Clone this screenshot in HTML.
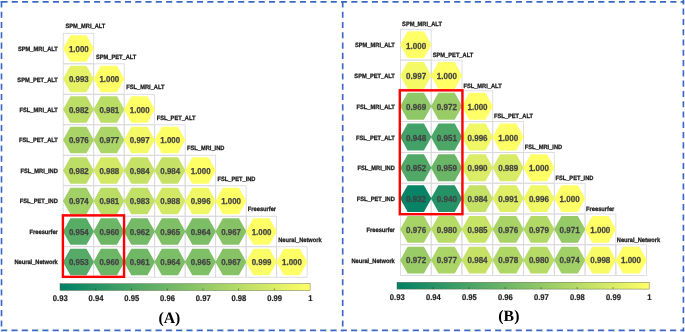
<!DOCTYPE html>
<html><head><meta charset="utf-8"><title>Correlation</title>
<style>
html,body{margin:0;padding:0;background:#fff;}
body{width:685px;height:332px;overflow:hidden;}
svg{display:block;}
text{font-family:"Liberation Sans",Arial,sans-serif;font-weight:bold;fill:#1a1a1a;text-rendering:geometricPrecision;}
.v{fill:#424242;stroke:#424242;stroke-width:0.25px;}
.l{fill:#1c1c1c;stroke:#1c1c1c;stroke-width:0.28px;}
.t{fill:#222;stroke:#222;stroke-width:0.2px;}
.p{font-family:"Liberation Serif","Times New Roman",serif;font-size:15.8px;fill:#000;}
</style></head><body>
<svg width="685" height="332" viewBox="0 0 685 332">
<defs><linearGradient id="sg" x1="0" x2="1" y1="0" y2="0"><stop offset="0" stop-color="#008066"/><stop offset="1" stop-color="#ffff66"/></linearGradient></defs>
<rect width="685" height="332" fill="#fff"/>
<g fill="none" stroke="#3c68c1" stroke-width="1.65" stroke-dasharray="6.1 4.19">
<path d="M1.46 1.8H684.3"/>
<path d="M1.2 330.4H684.3"/>
<path d="M1.5 1.4V331.2"/>
<path d="M342.7 1.4V331.2"/>
<path d="M683.4 -1.7V331.2"/>
<path d="M0.7 1.8H2"/>
</g>
<rect x="63.20" y="33.30" width="30.49" height="30.49" fill="none" stroke="#d9d9db" stroke-width="0.85"/>
<rect x="63.20" y="63.79" width="30.49" height="30.49" fill="none" stroke="#d9d9db" stroke-width="0.85"/>
<rect x="93.69" y="63.79" width="30.49" height="30.49" fill="none" stroke="#d9d9db" stroke-width="0.85"/>
<rect x="63.20" y="94.28" width="30.49" height="30.49" fill="none" stroke="#d9d9db" stroke-width="0.85"/>
<rect x="93.69" y="94.28" width="30.49" height="30.49" fill="none" stroke="#d9d9db" stroke-width="0.85"/>
<rect x="124.18" y="94.28" width="30.49" height="30.49" fill="none" stroke="#d9d9db" stroke-width="0.85"/>
<rect x="63.20" y="124.77" width="30.49" height="30.49" fill="none" stroke="#d9d9db" stroke-width="0.85"/>
<rect x="93.69" y="124.77" width="30.49" height="30.49" fill="none" stroke="#d9d9db" stroke-width="0.85"/>
<rect x="124.18" y="124.77" width="30.49" height="30.49" fill="none" stroke="#d9d9db" stroke-width="0.85"/>
<rect x="154.67" y="124.77" width="30.49" height="30.49" fill="none" stroke="#d9d9db" stroke-width="0.85"/>
<rect x="63.20" y="155.26" width="30.49" height="30.49" fill="none" stroke="#d9d9db" stroke-width="0.85"/>
<rect x="93.69" y="155.26" width="30.49" height="30.49" fill="none" stroke="#d9d9db" stroke-width="0.85"/>
<rect x="124.18" y="155.26" width="30.49" height="30.49" fill="none" stroke="#d9d9db" stroke-width="0.85"/>
<rect x="154.67" y="155.26" width="30.49" height="30.49" fill="none" stroke="#d9d9db" stroke-width="0.85"/>
<rect x="185.16" y="155.26" width="30.49" height="30.49" fill="none" stroke="#d9d9db" stroke-width="0.85"/>
<rect x="63.20" y="185.75" width="30.49" height="30.49" fill="none" stroke="#d9d9db" stroke-width="0.85"/>
<rect x="93.69" y="185.75" width="30.49" height="30.49" fill="none" stroke="#d9d9db" stroke-width="0.85"/>
<rect x="124.18" y="185.75" width="30.49" height="30.49" fill="none" stroke="#d9d9db" stroke-width="0.85"/>
<rect x="154.67" y="185.75" width="30.49" height="30.49" fill="none" stroke="#d9d9db" stroke-width="0.85"/>
<rect x="185.16" y="185.75" width="30.49" height="30.49" fill="none" stroke="#d9d9db" stroke-width="0.85"/>
<rect x="215.65" y="185.75" width="30.49" height="30.49" fill="none" stroke="#d9d9db" stroke-width="0.85"/>
<rect x="63.20" y="216.24" width="30.49" height="30.49" fill="none" stroke="#d9d9db" stroke-width="0.85"/>
<rect x="93.69" y="216.24" width="30.49" height="30.49" fill="none" stroke="#d9d9db" stroke-width="0.85"/>
<rect x="124.18" y="216.24" width="30.49" height="30.49" fill="none" stroke="#d9d9db" stroke-width="0.85"/>
<rect x="154.67" y="216.24" width="30.49" height="30.49" fill="none" stroke="#d9d9db" stroke-width="0.85"/>
<rect x="185.16" y="216.24" width="30.49" height="30.49" fill="none" stroke="#d9d9db" stroke-width="0.85"/>
<rect x="215.65" y="216.24" width="30.49" height="30.49" fill="none" stroke="#d9d9db" stroke-width="0.85"/>
<rect x="246.14" y="216.24" width="30.49" height="30.49" fill="none" stroke="#d9d9db" stroke-width="0.85"/>
<rect x="63.20" y="246.73" width="30.49" height="30.49" fill="none" stroke="#d9d9db" stroke-width="0.85"/>
<rect x="93.69" y="246.73" width="30.49" height="30.49" fill="none" stroke="#d9d9db" stroke-width="0.85"/>
<rect x="124.18" y="246.73" width="30.49" height="30.49" fill="none" stroke="#d9d9db" stroke-width="0.85"/>
<rect x="154.67" y="246.73" width="30.49" height="30.49" fill="none" stroke="#d9d9db" stroke-width="0.85"/>
<rect x="185.16" y="246.73" width="30.49" height="30.49" fill="none" stroke="#d9d9db" stroke-width="0.85"/>
<rect x="215.65" y="246.73" width="30.49" height="30.49" fill="none" stroke="#d9d9db" stroke-width="0.85"/>
<rect x="246.14" y="246.73" width="30.49" height="30.49" fill="none" stroke="#d9d9db" stroke-width="0.85"/>
<rect x="276.63" y="246.73" width="30.49" height="30.49" fill="none" stroke="#d9d9db" stroke-width="0.85"/>
<polygon points="62.95,48.54 70.40,35.22 86.49,35.22 93.94,48.54 86.49,61.87 70.40,61.87" fill="#ffff66"/>
<text transform="translate(78.85,52.04) scale(0.92,1)" class="v" font-size="8.6" text-anchor="middle">1.000</text>
<polygon points="62.95,79.03 70.40,65.71 86.49,65.71 93.94,79.03 86.49,92.36 70.40,92.36" fill="#e5f266"/>
<text transform="translate(78.85,82.47) scale(0.92,1)" class="v" font-size="8.6" text-anchor="middle">0.993</text>
<polygon points="93.44,79.03 100.89,65.71 116.98,65.71 124.43,79.03 116.98,92.36 100.89,92.36" fill="#ffff66"/>
<text transform="translate(109.30,82.47) scale(0.92,1)" class="v" font-size="8.6" text-anchor="middle">1.000</text>
<polygon points="62.95,109.52 70.40,96.20 86.49,96.20 93.94,109.52 86.49,122.85 70.40,122.85" fill="#bdde66"/>
<text transform="translate(78.85,112.89) scale(0.92,1)" class="v" font-size="8.6" text-anchor="middle">0.982</text>
<polygon points="93.44,109.52 100.89,96.20 116.98,96.20 124.43,109.52 116.98,122.85 100.89,122.85" fill="#badd66"/>
<text transform="translate(109.30,112.89) scale(0.92,1)" class="v" font-size="8.6" text-anchor="middle">0.981</text>
<polygon points="123.93,109.52 131.38,96.20 147.47,96.20 154.92,109.52 147.47,122.85 131.38,122.85" fill="#ffff66"/>
<text transform="translate(139.75,112.89) scale(0.92,1)" class="v" font-size="8.6" text-anchor="middle">1.000</text>
<polygon points="62.95,140.01 70.40,126.69 86.49,126.69 93.94,140.01 86.49,153.34 70.40,153.34" fill="#a8d366"/>
<text transform="translate(78.85,143.32) scale(0.92,1)" class="v" font-size="8.6" text-anchor="middle">0.976</text>
<polygon points="93.44,140.01 100.89,126.69 116.98,126.69 124.43,140.01 116.98,153.34 100.89,153.34" fill="#abd566"/>
<text transform="translate(109.30,143.32) scale(0.92,1)" class="v" font-size="8.6" text-anchor="middle">0.977</text>
<polygon points="123.93,140.01 131.38,126.69 147.47,126.69 154.92,140.01 147.47,153.34 131.38,153.34" fill="#f4fa66"/>
<text transform="translate(139.75,143.32) scale(0.92,1)" class="v" font-size="8.6" text-anchor="middle">0.997</text>
<polygon points="154.42,140.01 161.87,126.69 177.96,126.69 185.41,140.01 177.96,153.34 161.87,153.34" fill="#ffff66"/>
<text transform="translate(170.19,143.32) scale(0.92,1)" class="v" font-size="8.6" text-anchor="middle">1.000</text>
<polygon points="62.95,170.50 70.40,157.18 86.49,157.18 93.94,170.50 86.49,183.83 70.40,183.83" fill="#bdde66"/>
<text transform="translate(78.85,173.75) scale(0.92,1)" class="v" font-size="8.6" text-anchor="middle">0.982</text>
<polygon points="93.44,170.50 100.89,157.18 116.98,157.18 124.43,170.50 116.98,183.83 100.89,183.83" fill="#d3e966"/>
<text transform="translate(109.30,173.75) scale(0.92,1)" class="v" font-size="8.6" text-anchor="middle">0.988</text>
<polygon points="123.93,170.50 131.38,157.18 147.47,157.18 154.92,170.50 147.47,183.83 131.38,183.83" fill="#c5e266"/>
<text transform="translate(139.75,173.75) scale(0.92,1)" class="v" font-size="8.6" text-anchor="middle">0.984</text>
<polygon points="154.42,170.50 161.87,157.18 177.96,157.18 185.41,170.50 177.96,183.83 161.87,183.83" fill="#c5e266"/>
<text transform="translate(170.19,173.75) scale(0.92,1)" class="v" font-size="8.6" text-anchor="middle">0.984</text>
<polygon points="184.91,170.50 192.36,157.18 208.45,157.18 215.90,170.50 208.45,183.83 192.36,183.83" fill="#ffff66"/>
<text transform="translate(200.64,173.75) scale(0.92,1)" class="v" font-size="8.6" text-anchor="middle">1.000</text>
<polygon points="62.95,201.00 70.40,187.67 86.49,187.67 93.94,201.00 86.49,214.32 70.40,214.32" fill="#a0d066"/>
<text transform="translate(78.85,204.17) scale(0.92,1)" class="v" font-size="8.6" text-anchor="middle">0.974</text>
<polygon points="93.44,201.00 100.89,187.67 116.98,187.67 124.43,201.00 116.98,214.32 100.89,214.32" fill="#badd66"/>
<text transform="translate(109.30,204.17) scale(0.92,1)" class="v" font-size="8.6" text-anchor="middle">0.981</text>
<polygon points="123.93,201.00 131.38,187.67 147.47,187.67 154.92,201.00 147.47,214.32 131.38,214.32" fill="#c1e066"/>
<text transform="translate(139.75,204.17) scale(0.92,1)" class="v" font-size="8.6" text-anchor="middle">0.983</text>
<polygon points="154.42,201.00 161.87,187.67 177.96,187.67 185.41,201.00 177.96,214.32 161.87,214.32" fill="#d3e966"/>
<text transform="translate(170.19,204.17) scale(0.92,1)" class="v" font-size="8.6" text-anchor="middle">0.988</text>
<polygon points="184.91,201.00 192.36,187.67 208.45,187.67 215.90,201.00 208.45,214.32 192.36,214.32" fill="#f0f866"/>
<text transform="translate(200.64,204.17) scale(0.92,1)" class="v" font-size="8.6" text-anchor="middle">0.996</text>
<polygon points="215.40,201.00 222.85,187.67 238.94,187.67 246.39,201.00 238.94,214.32 222.85,214.32" fill="#ffff66"/>
<text transform="translate(231.09,204.17) scale(0.92,1)" class="v" font-size="8.6" text-anchor="middle">1.000</text>
<polygon points="62.95,231.49 70.40,218.16 86.49,218.16 93.94,231.49 86.49,244.81 70.40,244.81" fill="#57ac66"/>
<text transform="translate(78.85,234.60) scale(0.92,1)" class="v" font-size="8.6" text-anchor="middle">0.954</text>
<polygon points="93.44,231.49 100.89,218.16 116.98,218.16 124.43,231.49 116.98,244.81 100.89,244.81" fill="#6db666"/>
<text transform="translate(109.30,234.60) scale(0.92,1)" class="v" font-size="8.6" text-anchor="middle">0.960</text>
<polygon points="123.93,231.49 131.38,218.16 147.47,218.16 154.92,231.49 147.47,244.81 131.38,244.81" fill="#75ba66"/>
<text transform="translate(139.75,234.60) scale(0.92,1)" class="v" font-size="8.6" text-anchor="middle">0.962</text>
<polygon points="154.42,231.49 161.87,218.16 177.96,218.16 185.41,231.49 177.96,244.81 161.87,244.81" fill="#7fbf66"/>
<text transform="translate(170.19,234.60) scale(0.92,1)" class="v" font-size="8.6" text-anchor="middle">0.965</text>
<polygon points="184.91,231.49 192.36,218.16 208.45,218.16 215.90,231.49 208.45,244.81 192.36,244.81" fill="#7cbe66"/>
<text transform="translate(200.64,234.60) scale(0.92,1)" class="v" font-size="8.6" text-anchor="middle">0.964</text>
<polygon points="215.40,231.49 222.85,218.16 238.94,218.16 246.39,231.49 238.94,244.81 222.85,244.81" fill="#87c366"/>
<text transform="translate(231.09,234.60) scale(0.92,1)" class="v" font-size="8.6" text-anchor="middle">0.967</text>
<polygon points="245.89,231.49 253.34,218.16 269.43,218.16 276.88,231.49 269.43,244.81 253.34,244.81" fill="#ffff66"/>
<text transform="translate(261.54,234.60) scale(0.92,1)" class="v" font-size="8.6" text-anchor="middle">1.000</text>
<polygon points="62.95,261.97 70.40,248.65 86.49,248.65 93.94,261.97 86.49,275.30 70.40,275.30" fill="#54aa66"/>
<text transform="translate(78.85,265.02) scale(0.92,1)" class="v" font-size="8.6" text-anchor="middle">0.953</text>
<polygon points="93.44,261.97 100.89,248.65 116.98,248.65 124.43,261.97 116.98,275.30 100.89,275.30" fill="#6db666"/>
<text transform="translate(109.30,265.02) scale(0.92,1)" class="v" font-size="8.6" text-anchor="middle">0.960</text>
<polygon points="123.93,261.97 131.38,248.65 147.47,248.65 154.92,261.97 147.47,275.30 131.38,275.30" fill="#71b866"/>
<text transform="translate(139.75,265.02) scale(0.92,1)" class="v" font-size="8.6" text-anchor="middle">0.961</text>
<polygon points="154.42,261.97 161.87,248.65 177.96,248.65 185.41,261.97 177.96,275.30 161.87,275.30" fill="#7cbe66"/>
<text transform="translate(170.19,265.02) scale(0.92,1)" class="v" font-size="8.6" text-anchor="middle">0.964</text>
<polygon points="184.91,261.97 192.36,248.65 208.45,248.65 215.90,261.97 208.45,275.30 192.36,275.30" fill="#7fbf66"/>
<text transform="translate(200.64,265.02) scale(0.92,1)" class="v" font-size="8.6" text-anchor="middle">0.965</text>
<polygon points="215.40,261.97 222.85,248.65 238.94,248.65 246.39,261.97 238.94,275.30 222.85,275.30" fill="#87c366"/>
<text transform="translate(231.09,265.02) scale(0.92,1)" class="v" font-size="8.6" text-anchor="middle">0.967</text>
<polygon points="245.89,261.97 253.34,248.65 269.43,248.65 276.88,261.97 269.43,275.30 253.34,275.30" fill="#fbfd66"/>
<text transform="translate(261.54,265.02) scale(0.92,1)" class="v" font-size="8.6" text-anchor="middle">0.999</text>
<polygon points="276.38,261.97 283.83,248.65 299.92,248.65 307.37,261.97 299.92,275.30 283.83,275.30" fill="#ffff66"/>
<text transform="translate(292.00,265.02) scale(0.92,1)" class="v" font-size="8.6" text-anchor="middle">1.000</text>
<text transform="translate(57.80,51.19) scale(0.905,1)" class="l" font-size="6.3" text-anchor="end">SPM_MRI_ALT</text>
<text transform="translate(65.50,28.30) scale(0.905,1)" class="l" font-size="6.3">SPM_MRI_ALT</text>
<text transform="translate(57.80,81.62) scale(0.905,1)" class="l" font-size="6.3" text-anchor="end">SPM_PET_ALT</text>
<text transform="translate(95.89,58.79) scale(0.905,1)" class="l" font-size="6.3">SPM_PET_ALT</text>
<text transform="translate(57.80,112.05) scale(0.905,1)" class="l" font-size="6.3" text-anchor="end">FSL_MRI_ALT</text>
<text transform="translate(126.28,89.28) scale(0.905,1)" class="l" font-size="6.3">FSL_MRI_ALT</text>
<text transform="translate(57.80,142.47) scale(0.905,1)" class="l" font-size="6.3" text-anchor="end">FSL_PET_ALT</text>
<text transform="translate(156.67,119.77) scale(0.905,1)" class="l" font-size="6.3">FSL_PET_ALT</text>
<text transform="translate(57.80,172.90) scale(0.905,1)" class="l" font-size="6.3" text-anchor="end">FSL_MRI_IND</text>
<text transform="translate(187.06,150.26) scale(0.905,1)" class="l" font-size="6.3">FSL_MRI_IND</text>
<text transform="translate(57.80,203.32) scale(0.905,1)" class="l" font-size="6.3" text-anchor="end">FSL_PET_IND</text>
<text transform="translate(217.45,180.75) scale(0.905,1)" class="l" font-size="6.3">FSL_PET_IND</text>
<text transform="translate(57.80,233.75) scale(0.905,1)" class="l" font-size="6.3" text-anchor="end">Freesurfer</text>
<text transform="translate(247.84,211.24) scale(0.905,1)" class="l" font-size="6.3">Freesurfer</text>
<text transform="translate(57.80,264.17) scale(0.905,1)" class="l" font-size="6.3" text-anchor="end">Neural_Network</text>
<text transform="translate(278.23,241.73) scale(0.905,1)" class="l" font-size="6.3">Neural_Network</text>
<rect x="62.90" y="215.35" width="61.15" height="61.50" fill="none" stroke="#ff0000" stroke-width="2.4"/>
<rect x="60.00" y="283.70" width="250.10" height="6.75" fill="url(#sg)" stroke="#55603f" stroke-opacity="0.8" stroke-width="0.55"/>
<text transform="translate(60.30,301.15) scale(0.92,1)" class="t" font-size="8.3" text-anchor="middle">0.93</text>
<line x1="95.73" y1="288.45" x2="95.73" y2="290.45" stroke="#333" stroke-width="0.5"/>
<text transform="translate(96.03,301.15) scale(0.92,1)" class="t" font-size="8.3" text-anchor="middle">0.94</text>
<line x1="131.46" y1="288.45" x2="131.46" y2="290.45" stroke="#333" stroke-width="0.5"/>
<text transform="translate(131.76,301.15) scale(0.92,1)" class="t" font-size="8.3" text-anchor="middle">0.95</text>
<line x1="167.19" y1="288.45" x2="167.19" y2="290.45" stroke="#333" stroke-width="0.5"/>
<text transform="translate(167.49,301.15) scale(0.92,1)" class="t" font-size="8.3" text-anchor="middle">0.96</text>
<line x1="202.91" y1="288.45" x2="202.91" y2="290.45" stroke="#333" stroke-width="0.5"/>
<text transform="translate(203.21,301.15) scale(0.92,1)" class="t" font-size="8.3" text-anchor="middle">0.97</text>
<line x1="238.64" y1="288.45" x2="238.64" y2="290.45" stroke="#333" stroke-width="0.5"/>
<text transform="translate(238.94,301.15) scale(0.92,1)" class="t" font-size="8.3" text-anchor="middle">0.98</text>
<line x1="274.37" y1="288.45" x2="274.37" y2="290.45" stroke="#333" stroke-width="0.5"/>
<text transform="translate(274.67,301.15) scale(0.92,1)" class="t" font-size="8.3" text-anchor="middle">0.99</text>
<text transform="translate(310.40,301.15) scale(0.92,1)" class="t" font-size="8.3" text-anchor="middle">1</text>
<text x="169.40" y="322.60" class="p" text-anchor="middle">(A)</text>
<rect x="400.40" y="29.30" width="30.78" height="30.78" fill="none" stroke="#d9d9db" stroke-width="0.85"/>
<rect x="400.40" y="60.08" width="30.78" height="30.78" fill="none" stroke="#d9d9db" stroke-width="0.85"/>
<rect x="431.18" y="60.08" width="30.78" height="30.78" fill="none" stroke="#d9d9db" stroke-width="0.85"/>
<rect x="400.40" y="90.86" width="30.78" height="30.78" fill="none" stroke="#d9d9db" stroke-width="0.85"/>
<rect x="431.18" y="90.86" width="30.78" height="30.78" fill="none" stroke="#d9d9db" stroke-width="0.85"/>
<rect x="461.96" y="90.86" width="30.78" height="30.78" fill="none" stroke="#d9d9db" stroke-width="0.85"/>
<rect x="400.40" y="121.64" width="30.78" height="30.78" fill="none" stroke="#d9d9db" stroke-width="0.85"/>
<rect x="431.18" y="121.64" width="30.78" height="30.78" fill="none" stroke="#d9d9db" stroke-width="0.85"/>
<rect x="461.96" y="121.64" width="30.78" height="30.78" fill="none" stroke="#d9d9db" stroke-width="0.85"/>
<rect x="492.74" y="121.64" width="30.78" height="30.78" fill="none" stroke="#d9d9db" stroke-width="0.85"/>
<rect x="400.40" y="152.42" width="30.78" height="30.78" fill="none" stroke="#d9d9db" stroke-width="0.85"/>
<rect x="431.18" y="152.42" width="30.78" height="30.78" fill="none" stroke="#d9d9db" stroke-width="0.85"/>
<rect x="461.96" y="152.42" width="30.78" height="30.78" fill="none" stroke="#d9d9db" stroke-width="0.85"/>
<rect x="492.74" y="152.42" width="30.78" height="30.78" fill="none" stroke="#d9d9db" stroke-width="0.85"/>
<rect x="523.52" y="152.42" width="30.78" height="30.78" fill="none" stroke="#d9d9db" stroke-width="0.85"/>
<rect x="400.40" y="183.20" width="30.78" height="30.78" fill="none" stroke="#d9d9db" stroke-width="0.85"/>
<rect x="431.18" y="183.20" width="30.78" height="30.78" fill="none" stroke="#d9d9db" stroke-width="0.85"/>
<rect x="461.96" y="183.20" width="30.78" height="30.78" fill="none" stroke="#d9d9db" stroke-width="0.85"/>
<rect x="492.74" y="183.20" width="30.78" height="30.78" fill="none" stroke="#d9d9db" stroke-width="0.85"/>
<rect x="523.52" y="183.20" width="30.78" height="30.78" fill="none" stroke="#d9d9db" stroke-width="0.85"/>
<rect x="554.30" y="183.20" width="30.78" height="30.78" fill="none" stroke="#d9d9db" stroke-width="0.85"/>
<rect x="400.40" y="213.98" width="30.78" height="30.78" fill="none" stroke="#d9d9db" stroke-width="0.85"/>
<rect x="431.18" y="213.98" width="30.78" height="30.78" fill="none" stroke="#d9d9db" stroke-width="0.85"/>
<rect x="461.96" y="213.98" width="30.78" height="30.78" fill="none" stroke="#d9d9db" stroke-width="0.85"/>
<rect x="492.74" y="213.98" width="30.78" height="30.78" fill="none" stroke="#d9d9db" stroke-width="0.85"/>
<rect x="523.52" y="213.98" width="30.78" height="30.78" fill="none" stroke="#d9d9db" stroke-width="0.85"/>
<rect x="554.30" y="213.98" width="30.78" height="30.78" fill="none" stroke="#d9d9db" stroke-width="0.85"/>
<rect x="585.08" y="213.98" width="30.78" height="30.78" fill="none" stroke="#d9d9db" stroke-width="0.85"/>
<rect x="400.40" y="244.76" width="30.78" height="30.78" fill="none" stroke="#d9d9db" stroke-width="0.85"/>
<rect x="431.18" y="244.76" width="30.78" height="30.78" fill="none" stroke="#d9d9db" stroke-width="0.85"/>
<rect x="461.96" y="244.76" width="30.78" height="30.78" fill="none" stroke="#d9d9db" stroke-width="0.85"/>
<rect x="492.74" y="244.76" width="30.78" height="30.78" fill="none" stroke="#d9d9db" stroke-width="0.85"/>
<rect x="523.52" y="244.76" width="30.78" height="30.78" fill="none" stroke="#d9d9db" stroke-width="0.85"/>
<rect x="554.30" y="244.76" width="30.78" height="30.78" fill="none" stroke="#d9d9db" stroke-width="0.85"/>
<rect x="585.08" y="244.76" width="30.78" height="30.78" fill="none" stroke="#d9d9db" stroke-width="0.85"/>
<rect x="615.86" y="244.76" width="30.78" height="30.78" fill="none" stroke="#d9d9db" stroke-width="0.85"/>
<polygon points="400.15,44.69 407.66,31.24 423.92,31.24 431.43,44.69 423.92,58.14 407.66,58.14" fill="#ffff66"/>
<text transform="translate(416.14,48.69) scale(0.915,1)" class="v" font-size="8.75" text-anchor="middle">1.000</text>
<polygon points="400.15,75.47 407.66,62.02 423.92,62.02 431.43,75.47 423.92,88.92 407.66,88.92" fill="#f4fa66"/>
<text transform="translate(416.14,79.36) scale(0.915,1)" class="v" font-size="8.75" text-anchor="middle">0.997</text>
<polygon points="430.93,75.47 438.44,62.02 454.70,62.02 462.21,75.47 454.70,88.92 438.44,88.92" fill="#ffff66"/>
<text transform="translate(446.83,79.36) scale(0.915,1)" class="v" font-size="8.75" text-anchor="middle">1.000</text>
<polygon points="400.15,106.25 407.66,92.80 423.92,92.80 431.43,106.25 423.92,119.70 407.66,119.70" fill="#8ec766"/>
<text transform="translate(416.14,110.04) scale(0.915,1)" class="v" font-size="8.75" text-anchor="middle">0.969</text>
<polygon points="430.93,106.25 438.44,92.80 454.70,92.80 462.21,106.25 454.70,119.70 438.44,119.70" fill="#99cc66"/>
<text transform="translate(446.83,110.04) scale(0.915,1)" class="v" font-size="8.75" text-anchor="middle">0.972</text>
<polygon points="461.71,106.25 469.22,92.80 485.48,92.80 492.99,106.25 485.48,119.70 469.22,119.70" fill="#ffff66"/>
<text transform="translate(477.53,110.04) scale(0.915,1)" class="v" font-size="8.75" text-anchor="middle">1.000</text>
<polygon points="400.15,137.03 407.66,123.58 423.92,123.58 431.43,137.03 423.92,150.48 407.66,150.48" fill="#42a166"/>
<text transform="translate(416.14,140.71) scale(0.915,1)" class="v" font-size="8.75" text-anchor="middle">0.948</text>
<polygon points="430.93,137.03 438.44,123.58 454.70,123.58 462.21,137.03 454.70,150.48 438.44,150.48" fill="#4ca666"/>
<text transform="translate(446.83,140.71) scale(0.915,1)" class="v" font-size="8.75" text-anchor="middle">0.951</text>
<polygon points="461.71,137.03 469.22,123.58 485.48,123.58 492.99,137.03 485.48,150.48 469.22,150.48" fill="#f0f866"/>
<text transform="translate(477.53,140.71) scale(0.915,1)" class="v" font-size="8.75" text-anchor="middle">0.996</text>
<polygon points="492.49,137.03 500.00,123.58 516.26,123.58 523.77,137.03 516.26,150.48 500.00,150.48" fill="#ffff66"/>
<text transform="translate(508.22,140.71) scale(0.915,1)" class="v" font-size="8.75" text-anchor="middle">1.000</text>
<polygon points="400.15,167.81 407.66,154.36 423.92,154.36 431.43,167.81 423.92,181.26 407.66,181.26" fill="#50a866"/>
<text transform="translate(416.14,171.38) scale(0.915,1)" class="v" font-size="8.75" text-anchor="middle">0.952</text>
<polygon points="430.93,167.81 438.44,154.36 454.70,154.36 462.21,167.81 454.70,181.26 438.44,181.26" fill="#6ab566"/>
<text transform="translate(446.83,171.38) scale(0.915,1)" class="v" font-size="8.75" text-anchor="middle">0.959</text>
<polygon points="461.71,167.81 469.22,154.36 485.48,154.36 492.99,167.81 485.48,181.26 469.22,181.26" fill="#dbed66"/>
<text transform="translate(477.53,171.38) scale(0.915,1)" class="v" font-size="8.75" text-anchor="middle">0.990</text>
<polygon points="492.49,167.81 500.00,154.36 516.26,154.36 523.77,167.81 516.26,181.26 500.00,181.26" fill="#d7eb66"/>
<text transform="translate(508.22,171.38) scale(0.915,1)" class="v" font-size="8.75" text-anchor="middle">0.989</text>
<polygon points="523.27,167.81 530.78,154.36 547.04,154.36 554.55,167.81 547.04,181.26 530.78,181.26" fill="#ffff66"/>
<text transform="translate(538.92,171.38) scale(0.915,1)" class="v" font-size="8.75" text-anchor="middle">1.000</text>
<polygon points="400.15,198.59 407.66,185.14 423.92,185.14 431.43,198.59 423.92,212.04 407.66,212.04" fill="#078466"/>
<text transform="translate(416.14,202.06) scale(0.915,1)" class="v" font-size="8.75" text-anchor="middle">0.932</text>
<polygon points="430.93,198.59 438.44,185.14 454.70,185.14 462.21,198.59 454.70,212.04 438.44,212.04" fill="#249266"/>
<text transform="translate(446.83,202.06) scale(0.915,1)" class="v" font-size="8.75" text-anchor="middle">0.940</text>
<polygon points="461.71,198.59 469.22,185.14 485.48,185.14 492.99,198.59 485.48,212.04 469.22,212.04" fill="#c5e266"/>
<text transform="translate(477.53,202.06) scale(0.915,1)" class="v" font-size="8.75" text-anchor="middle">0.984</text>
<polygon points="492.49,198.59 500.00,185.14 516.26,185.14 523.77,198.59 516.26,212.04 500.00,212.04" fill="#deef66"/>
<text transform="translate(508.22,202.06) scale(0.915,1)" class="v" font-size="8.75" text-anchor="middle">0.991</text>
<polygon points="523.27,198.59 530.78,185.14 547.04,185.14 554.55,198.59 547.04,212.04 530.78,212.04" fill="#f0f866"/>
<text transform="translate(538.92,202.06) scale(0.915,1)" class="v" font-size="8.75" text-anchor="middle">0.996</text>
<polygon points="554.05,198.59 561.56,185.14 577.82,185.14 585.33,198.59 577.82,212.04 561.56,212.04" fill="#ffff66"/>
<text transform="translate(569.61,202.06) scale(0.915,1)" class="v" font-size="8.75" text-anchor="middle">1.000</text>
<polygon points="400.15,229.37 407.66,215.92 423.92,215.92 431.43,229.37 423.92,242.82 407.66,242.82" fill="#a8d366"/>
<text transform="translate(416.14,232.73) scale(0.915,1)" class="v" font-size="8.75" text-anchor="middle">0.976</text>
<polygon points="430.93,229.37 438.44,215.92 454.70,215.92 462.21,229.37 454.70,242.82 438.44,242.82" fill="#b6db66"/>
<text transform="translate(446.83,232.73) scale(0.915,1)" class="v" font-size="8.75" text-anchor="middle">0.980</text>
<polygon points="461.71,229.37 469.22,215.92 485.48,215.92 492.99,229.37 485.48,242.82 469.22,242.82" fill="#c8e466"/>
<text transform="translate(477.53,232.73) scale(0.915,1)" class="v" font-size="8.75" text-anchor="middle">0.985</text>
<polygon points="492.49,229.37 500.00,215.92 516.26,215.92 523.77,229.37 516.26,242.82 500.00,242.82" fill="#a8d366"/>
<text transform="translate(508.22,232.73) scale(0.915,1)" class="v" font-size="8.75" text-anchor="middle">0.976</text>
<polygon points="523.27,229.37 530.78,215.92 547.04,215.92 554.55,229.37 547.04,242.82 530.78,242.82" fill="#b2d966"/>
<text transform="translate(538.92,232.73) scale(0.915,1)" class="v" font-size="8.75" text-anchor="middle">0.979</text>
<polygon points="554.05,229.37 561.56,215.92 577.82,215.92 585.33,229.37 577.82,242.82 561.56,242.82" fill="#95ca66"/>
<text transform="translate(569.61,232.73) scale(0.915,1)" class="v" font-size="8.75" text-anchor="middle">0.971</text>
<polygon points="584.83,229.37 592.34,215.92 608.60,215.92 616.11,229.37 608.60,242.82 592.34,242.82" fill="#ffff66"/>
<text transform="translate(600.30,232.73) scale(0.915,1)" class="v" font-size="8.75" text-anchor="middle">1.000</text>
<polygon points="400.15,260.15 407.66,246.70 423.92,246.70 431.43,260.15 423.92,273.60 407.66,273.60" fill="#99cc66"/>
<text transform="translate(416.14,263.40) scale(0.915,1)" class="v" font-size="8.75" text-anchor="middle">0.972</text>
<polygon points="430.93,260.15 438.44,246.70 454.70,246.70 462.21,260.15 454.70,273.60 438.44,273.60" fill="#abd566"/>
<text transform="translate(446.83,263.40) scale(0.915,1)" class="v" font-size="8.75" text-anchor="middle">0.977</text>
<polygon points="461.71,260.15 469.22,246.70 485.48,246.70 492.99,260.15 485.48,273.60 469.22,273.60" fill="#c5e266"/>
<text transform="translate(477.53,263.40) scale(0.915,1)" class="v" font-size="8.75" text-anchor="middle">0.984</text>
<polygon points="492.49,260.15 500.00,246.70 516.26,246.70 523.77,260.15 516.26,273.60 500.00,273.60" fill="#afd766"/>
<text transform="translate(508.22,263.40) scale(0.915,1)" class="v" font-size="8.75" text-anchor="middle">0.978</text>
<polygon points="523.27,260.15 530.78,246.70 547.04,246.70 554.55,260.15 547.04,273.60 530.78,273.60" fill="#b6db66"/>
<text transform="translate(538.92,263.40) scale(0.915,1)" class="v" font-size="8.75" text-anchor="middle">0.980</text>
<polygon points="554.05,260.15 561.56,246.70 577.82,246.70 585.33,260.15 577.82,273.60 561.56,273.60" fill="#a0d066"/>
<text transform="translate(569.61,263.40) scale(0.915,1)" class="v" font-size="8.75" text-anchor="middle">0.974</text>
<polygon points="584.83,260.15 592.34,246.70 608.60,246.70 616.11,260.15 608.60,273.60 592.34,273.60" fill="#f8fb66"/>
<text transform="translate(600.30,263.40) scale(0.915,1)" class="v" font-size="8.75" text-anchor="middle">0.998</text>
<polygon points="615.61,260.15 623.12,246.70 639.38,246.70 646.89,260.15 639.38,273.60 623.12,273.60" fill="#ffff66"/>
<text transform="translate(631.00,263.40) scale(0.915,1)" class="v" font-size="8.75" text-anchor="middle">1.000</text>
<text transform="translate(394.80,47.34) scale(0.905,1)" class="l" font-size="6.3" text-anchor="end">SPM_MRI_ALT</text>
<text transform="translate(402.10,25.90) scale(0.905,1)" class="l" font-size="6.3">SPM_MRI_ALT</text>
<text transform="translate(394.80,78.09) scale(0.905,1)" class="l" font-size="6.3" text-anchor="end">SPM_PET_ALT</text>
<text transform="translate(432.76,56.73) scale(0.905,1)" class="l" font-size="6.3">SPM_PET_ALT</text>
<text transform="translate(394.80,108.84) scale(0.905,1)" class="l" font-size="6.3" text-anchor="end">FSL_MRI_ALT</text>
<text transform="translate(463.43,87.56) scale(0.905,1)" class="l" font-size="6.3">FSL_MRI_ALT</text>
<text transform="translate(394.80,139.59) scale(0.905,1)" class="l" font-size="6.3" text-anchor="end">FSL_PET_ALT</text>
<text transform="translate(494.09,118.39) scale(0.905,1)" class="l" font-size="6.3">FSL_PET_ALT</text>
<text transform="translate(394.80,170.34) scale(0.905,1)" class="l" font-size="6.3" text-anchor="end">FSL_MRI_IND</text>
<text transform="translate(524.76,149.22) scale(0.905,1)" class="l" font-size="6.3">FSL_MRI_IND</text>
<text transform="translate(394.80,201.09) scale(0.905,1)" class="l" font-size="6.3" text-anchor="end">FSL_PET_IND</text>
<text transform="translate(555.42,180.05) scale(0.905,1)" class="l" font-size="6.3">FSL_PET_IND</text>
<text transform="translate(394.80,231.84) scale(0.905,1)" class="l" font-size="6.3" text-anchor="end">Freesurfer</text>
<text transform="translate(586.09,210.88) scale(0.905,1)" class="l" font-size="6.3">Freesurfer</text>
<text transform="translate(394.80,262.59) scale(0.905,1)" class="l" font-size="6.3" text-anchor="end">Neural_Network</text>
<text transform="translate(616.76,241.71) scale(0.905,1)" class="l" font-size="6.3">Neural_Network</text>
<rect x="399.80" y="90.30" width="62.65" height="123.90" fill="none" stroke="#ff0000" stroke-width="2.4"/>
<rect x="397.00" y="282.30" width="252.20" height="6.80" fill="url(#sg)" stroke="#55603f" stroke-opacity="0.8" stroke-width="0.55"/>
<text transform="translate(397.30,299.85) scale(0.92,1)" class="t" font-size="8.3" text-anchor="middle">0.93</text>
<line x1="433.03" y1="287.10" x2="433.03" y2="289.10" stroke="#333" stroke-width="0.5"/>
<text transform="translate(433.33,299.85) scale(0.92,1)" class="t" font-size="8.3" text-anchor="middle">0.94</text>
<line x1="469.06" y1="287.10" x2="469.06" y2="289.10" stroke="#333" stroke-width="0.5"/>
<text transform="translate(469.36,299.85) scale(0.92,1)" class="t" font-size="8.3" text-anchor="middle">0.95</text>
<line x1="505.09" y1="287.10" x2="505.09" y2="289.10" stroke="#333" stroke-width="0.5"/>
<text transform="translate(505.39,299.85) scale(0.92,1)" class="t" font-size="8.3" text-anchor="middle">0.96</text>
<line x1="541.11" y1="287.10" x2="541.11" y2="289.10" stroke="#333" stroke-width="0.5"/>
<text transform="translate(541.41,299.85) scale(0.92,1)" class="t" font-size="8.3" text-anchor="middle">0.97</text>
<line x1="577.14" y1="287.10" x2="577.14" y2="289.10" stroke="#333" stroke-width="0.5"/>
<text transform="translate(577.44,299.85) scale(0.92,1)" class="t" font-size="8.3" text-anchor="middle">0.98</text>
<line x1="613.17" y1="287.10" x2="613.17" y2="289.10" stroke="#333" stroke-width="0.5"/>
<text transform="translate(613.47,299.85) scale(0.92,1)" class="t" font-size="8.3" text-anchor="middle">0.99</text>
<text transform="translate(649.50,299.85) scale(0.92,1)" class="t" font-size="8.3" text-anchor="middle">1</text>
<text x="508.90" y="321.10" class="p" text-anchor="middle">(B)</text>
</svg>
</body></html>
